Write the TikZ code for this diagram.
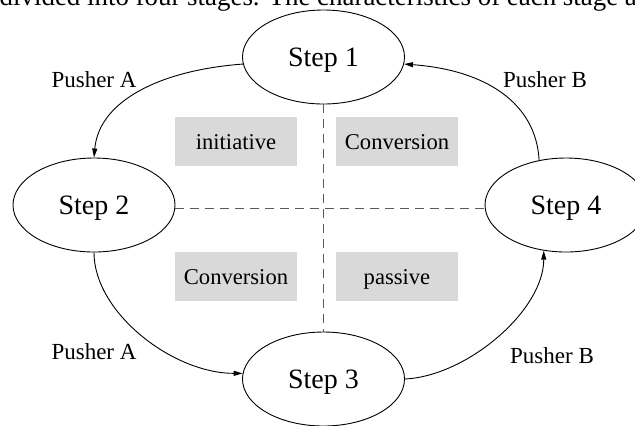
\documentclass[tikz,border=0pt]{standalone}
\usepackage{fontspec}
\setmainfont{Liberation Serif}
\usetikzlibrary{shapes.geometric,arrows.meta}
\definecolor{boxgray}{HTML}{D9D9D9}
\definecolor{dashgray}{HTML}{5A5A5A}

\begin{document}
\begin{tikzpicture}[x=1bp,y=-1bp,
  stage/.style={ellipse,draw,line width=0.9bp,minimum width=162bp,minimum height=94bp,
    inner sep=0pt,font=\fontsize{28bp}{30bp}\selectfont,text height=19bp,text depth=0pt},
  phase/.style={fill=boxgray,minimum width=122bp,minimum height=49bp,inner sep=0pt,
    font=\fontsize{22.6bp}{24bp}\selectfont,text height=15.4bp,text depth=0pt},
  push/.style={line width=0.9bp,-{Triangle[length=9bp,width=5bp]}},
  lbl/.style={font=\fontsize{23bp}{25bp}\selectfont,anchor=base,inner sep=0pt},
  split/.style={draw=dashgray,line width=1.2bp,dash pattern=on 9bp off 6bp}]
  \useasboundingbox (0,0) rectangle (635,425);
  \clip (0,0) rectangle (635,425);

  % running text line above the figure
  \node[anchor=base west,inner sep=0pt,font=\fontsize{26.9bp}{30bp}\selectfont] (cap) at (-0.5,5)
    {divided into four stages. The characteristics of each stage are};

  % the four stages
  \node[stage] (s1) at (323.5,57) {Step 1};
  \node[stage] (s2) at (94,205) {Step 2};
  \node[stage] (s3) at (323.5,379) {Step 3};
  \node[stage] (s4) at (566,205) {Step 4};

  % quadrant dividers
  \draw[split] ([yshift=-3.5bp]s2.east) -- ([yshift=-3.5bp]s4.west);
  \draw[split] (s1.south) -- (s3.north);

  % quadrant tags
  \node[phase] (b1) at (236,141.5) {initiative};
  \node[phase] (b2) at (397,141.5) {Conversion};
  \node[phase] (b3) at (236,276.5) {Conversion};
  \node[phase] (b4) at (397,276.5) {passive};

  % transitions
  \draw[push] (s1.185) .. controls +(-82,6) and +(5,-57) .. (s2.north);
  \draw[push] (s2.south) .. controls +(0,60) and +(-70,0) .. (s3.176);
  \draw[push] (s3.east) .. controls +(62,-3) and +(0,60) .. (s4.244);
  \draw[push] (s4.121) .. controls +(-3,-57) and +(82,6) .. (s1.355);

  % transition labels
  \node[lbl] (la1) at (94,87) {Pusher A};
  \node[lbl] (lb1) at (545,87) {Pusher B};
  \node[lbl] (la2) at (94,359) {Pusher A};
  \node[lbl] (lb2) at (552,363) {Pusher B};
\end{tikzpicture}
\end{document}
